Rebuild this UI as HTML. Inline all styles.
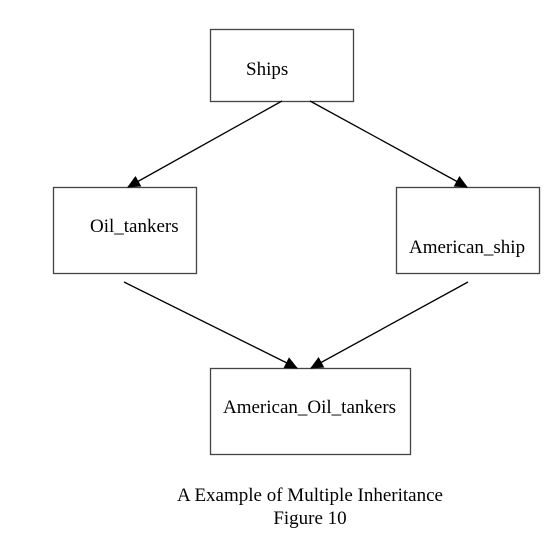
<!DOCTYPE html>
<html><head><style>body{margin:0;background:#fff}svg{display:block}</style></head><body>
<svg width="560" height="540" xmlns="http://www.w3.org/2000/svg" font-family="Liberation Serif, serif" font-size="19">
<defs><marker id="a" markerWidth="13" markerHeight="12" refX="12" refY="6" orient="auto" markerUnits="userSpaceOnUse"><path d="M0,0 L13,6 L0,12 z" fill="#000"/></marker></defs>
<g fill="#fff" stroke="#444" stroke-width="1.3">
<rect x="210.5" y="29.5" width="143" height="72"/>
<rect x="53.5" y="187.5" width="143" height="86"/>
<rect x="396.5" y="187.5" width="143" height="86"/>
<rect x="210.5" y="368.5" width="200" height="86"/>
</g>
<g stroke="#000" stroke-width="1.3" marker-end="url(#a)">
<line x1="282" y1="101" x2="128" y2="187"/>
<line x1="310" y1="101" x2="467" y2="187"/>
<line x1="124" y1="282" x2="297" y2="368"/>
<line x1="468" y1="282" x2="311" y2="368"/>
</g>
<text x="246" y="75">Ships</text>
<text x="90" y="232">Oil_tankers</text>
<text x="409" y="253">American_ship</text>
<text x="223" y="413">American_Oil_tankers</text>
<text x="310" y="501" text-anchor="middle" font-size="19">A Example of Multiple Inheritance</text>
<text x="310" y="524" text-anchor="middle" font-size="19">Figure 10</text>
</svg>
</body></html>
